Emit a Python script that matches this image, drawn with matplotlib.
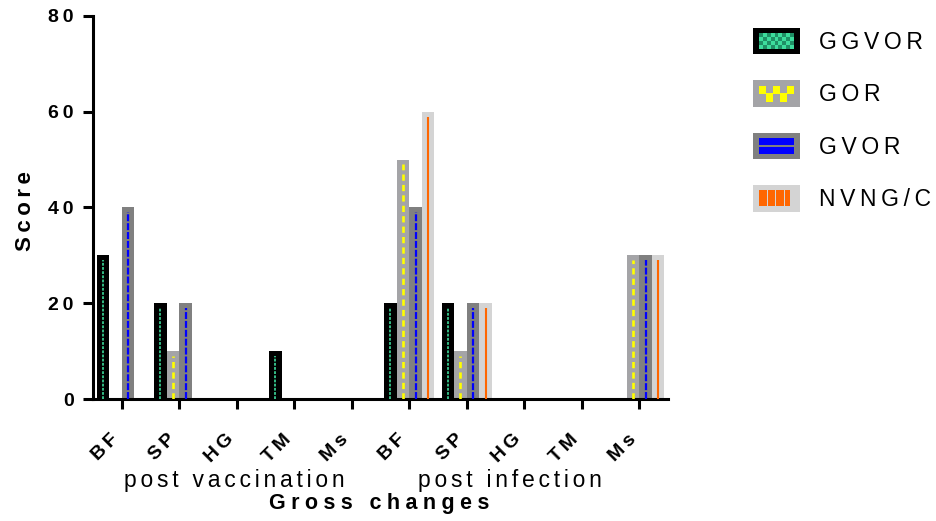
import matplotlib
matplotlib.use('Agg')
import matplotlib.pyplot as plt
from matplotlib.patches import Rectangle
from matplotlib.legend_handler import HandlerBase
from matplotlib.transforms import blended_transform_factory
import numpy as np

# ---- data -------------------------------------------------------------
categories = ['BF', 'SP', 'HG', 'TM', 'Ms', 'BF', 'SP', 'HG', 'TM', 'Ms']
phases = ['post vaccination', 'post infection']
series = ['GGVOR', 'GOR', 'GVOR', 'NVNG/C']
ggvor = [30, 20, 0, 10, 0, 20, 20, 0, 0, 0]
gor = [0, 10, 0, 0, 0, 50, 10, 0, 0, 30]
gvor = [40, 20, 0, 0, 0, 40, 20, 0, 0, 30]
nvngc = [0, 0, 0, 0, 0, 60, 20, 0, 0, 30]
yticks = [0, 20, 40, 60, 80]

plt.rcParams['font.family'] = ['Liberation Sans', 'DejaVu Sans']
plt.rcParams['lines.scale_dashes'] = False

THIN, FOUR_PER_EM, SIX_PER_EM = '\u2009', '\u2005', '\u2006'


def spaced(s, gap=THIN):
    """Letter-spaced text: a narrow space between every character."""
    return gap.join(s)


# bar fill, inner stripe colour, stripe width, stripe style
styles = [
    dict(face='#000000', accent='#3ddc9c', lw=1.2, ls=(0, (2.0, 1.0))),
    dict(face='#a4a4a7', accent='#ffff00', lw=1.9, ls=(0, (4.5, 3.0))),
    dict(face='#808080', accent='#0000ff', lw=1.6, ls=(0, (5.0, 1.4))),
    dict(face='#d4d4d4', accent='#ff6600', lw=1.5, ls='-'),
]

fig = plt.figure(figsize=(9.37, 5.21), dpi=100)
ax = fig.add_axes([93 / 937, 1 - 399 / 521, (668 - 93) / 937, (399 - 16) / 521])

x = np.arange(len(categories))
w = 0.218
for i, (vals, st) in enumerate(zip([ggvor, gor, gvor, nvngc], styles)):
    pos = x + (i - 1.5) * w
    ax.bar(pos, vals, width=w, color=st['face'], edgecolor='none', zorder=2)
    v = np.asarray(vals, dtype=float)
    m = v > 0
    ax.vlines(pos[m], 0, v[m] - 1.0, colors=st['accent'], linewidth=st['lw'],
              linestyles=[st['ls']], zorder=3)

ax.set_xlim(-0.5, 9.5)
ax.set_ylim(0, 80)
for side in ('top', 'right'):
    ax.spines[side].set_visible(False)
for side in ('left', 'bottom'):
    ax.spines[side].set_linewidth(2.2)

ax.set_yticks(yticks)
ax.set_yticklabels([spaced(str(t)) for t in yticks], fontsize=14, fontweight='bold')
ax.tick_params(axis='y', width=2.2, length=7, pad=7)
ax.set_xticks(x)
ax.set_xticklabels([spaced(c) for c in categories], fontsize=14, fontweight='bold',
                   rotation=45, ha='right', va='top')
ax.tick_params(axis='x', width=2.2, length=7, pad=16)

ax.set_ylabel(spaced('Score'), fontsize=16, fontweight='bold')
ax.yaxis.set_label_coords(-0.0997, 0.49)
ax.set_xlabel(spaced('Gross changes', FOUR_PER_EM), fontsize=15.5, fontweight='bold')
ax.xaxis.set_label_coords(0.497, -0.246)

tr = blended_transform_factory(ax.transData, ax.transAxes)
for xc, name in zip([1.96, 6.75], phases):
    ax.text(xc, -0.2298, spaced(name, SIX_PER_EM), transform=tr, ha='center',
            va='baseline', fontsize=16.5)


# ---- legend swatches -------------------------------------------------
class SwatchHandler(HandlerBase):
    def __init__(self, kind, face, accent):
        super().__init__()
        self.kind, self.face, self.accent = kind, face, accent

    def create_artists(self, legend, orig_handle, xdescent, ydescent, width,
                       height, fontsize, trans):
        x0, y0 = -xdescent, -ydescent
        arts = [Rectangle((x0, y0), width, height, facecolor=self.face,
                          edgecolor='none', transform=trans)]
        ix0, ix1 = x0 + 0.13 * width, x0 + 0.87 * width
        iy0, iy1 = y0 + 0.2 * height, y0 + 0.8 * height
        iw, ih = ix1 - ix0, iy1 - iy0

        def box(a, b, c, d, col):
            arts.append(Rectangle((a, b), c, d, facecolor=col, edgecolor='none',
                                  transform=trans))

        if self.kind == 'checker':
            nx, ny = 9, 4
            for ci in range(nx):
                for rj in range(ny):
                    col = self.accent if (ci + rj) % 2 == 0 else '#1f8f65'
                    box(ix0 + ci * iw / nx, iy0 + rj * ih / ny, iw / nx, ih / ny, col)
        elif self.kind == 'weave':
            nx = 5
            for ci in range(nx):
                top = ci % 2 == 0
                yb = iy0 + (ih * 0.5 if top else 0.0)
                box(ix0 + ci * iw / nx, yb, iw / nx, ih * 0.5, self.accent)
            box(ix0, iy0 + ih * 0.45, iw, ih * 0.1, self.accent)
        elif self.kind == 'hbars':
            box(ix0, iy0, iw, ih * 0.44, self.accent)
            box(ix0, iy0 + ih * 0.56, iw, ih * 0.44, self.accent)
        elif self.kind == 'vbars':
            bw = iw / 4
            for ci in range(4):
                box(ix0 + ci * bw, iy0, bw * (0.86 if ci < 3 else 0.55), ih, self.accent)
        return arts


kinds = ['checker', 'weave', 'hbars', 'vbars']
handles = [Rectangle((0, 0), 1, 1) for _ in series]
hmap = {h: SwatchHandler(k, st['face'], st['accent'])
        for h, k, st in zip(handles, kinds, styles)}
fig.legend(handles, [spaced(s) for s in series], handler_map=hmap,
           loc='upper left', bbox_to_anchor=(753 / 937, 1 - 28 / 521),
           frameon=False, fontsize=16.5, handlelength=2.05, handleheight=1.4,
           handletextpad=0.85, labelspacing=1.13, borderpad=0, borderaxespad=0)

fig.savefig('out.png', dpi=100)
